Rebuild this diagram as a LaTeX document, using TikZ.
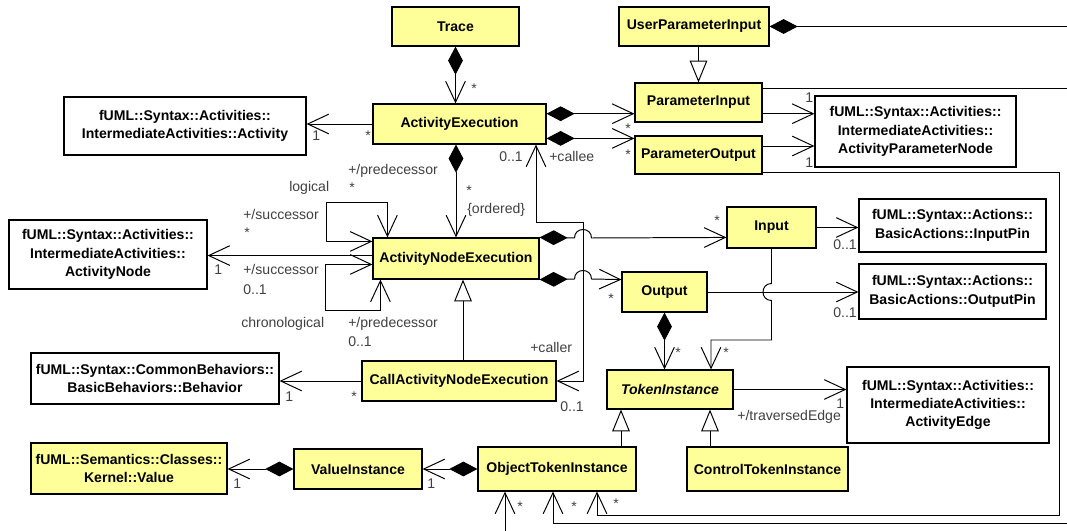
\documentclass[tikz,border=0pt]{standalone}
\usepackage{fontspec}
\setmainfont{Liberation Sans}
\usetikzlibrary{arrows.meta,calc}

\definecolor{umlyellow}{HTML}{FFFF99}
\def\px{0.025cm}

\tikzset{
  every node/.style={font=\fontsize{10}{13}\selectfont},
  sz/.style 2 args={minimum width=#1*\px, minimum height=#2*\px, inner sep=0pt},
  cls/.style={draw, fill=umlyellow, line width=0.8pt, font=\fontsize{10}{13}\selectfont\bfseries},
  ext/.style={draw, fill=white, line width=0.8pt, align=center, font=\fontsize{10}{13}\selectfont\bfseries},
  lbl/.style={anchor=base west, inner sep=0pt, text=black!75},
  conn/.style={line width=0.7pt},
  nav/.style={conn, -{Straight Barb[length=15pt,width=14pt]}},
  navboth/.style={conn, {Straight Barb[length=15pt,width=14pt]}-{Straight Barb[length=15pt,width=14pt]}},
  comp/.style={conn, {Diamond[length=20pt,width=10.5pt]}-{Straight Barb[length=15pt,width=14pt]}},
  owner/.style={conn, {Diamond[length=20pt,width=10.5pt]}-},
  gen/.style={conn, -{Triangle[length=15.5pt,width=12.5pt,fill=white]}},
}

\begin{document}
\begin{tikzpicture}[x=\px, y=-\px]
  \useasboundingbox (0,0) rectangle (1067,531);

  % classes
  \node[cls, sz={127}{39}] (trace) at (455.5,26.5) {Trace};
  \node[cls, sz={150}{39}] (upi)   at (694,26.5)   {UserParameterInput};
  \node[cls, sz={173}{40}] (ae)    at (459.5,124)  {ActivityExecution};
  \node[cls, sz={127}{39}] (pin)   at (698.5,102.5) {ParameterInput};
  \node[cls, sz={127}{38}] (pout)  at (698.5,155)  {ParameterOutput};
  \node[cls, sz={166}{41}] (ane)   at (456,258.5)  {ActivityNodeExecution};
  \node[cls, sz={89}{41}]  (inp)   at (771.5,227.5) {Input};
  \node[cls, sz={85}{40}]  (outp)  at (664.5,292)  {Output};
  \node[cls, sz={194}{40}] (cane)  at (459,381)    {CallActivityNodeExecution};
  \node[cls, sz={126}{39}, font=\fontsize{10}{13}\selectfont\bfseries\itshape] (ti) at (670,389.5) {TokenInstance};
  \node[cls, sz={128}{40}] (vi)    at (358,469)    {ValueInstance};
  \node[cls, sz={158}{44}] (oti)   at (557,469)    {ObjectTokenInstance};
  \node[cls, sz={161}{44}] (cti)   at (767.5,469)  {ControlTokenInstance};
  \node[cls, sz={196}{51}, align=center] (val) at (129,468.5) {fUML::Semantics::Classes::\\Kernel::Value};

  % imported classes
  \node[ext, sz={242}{58}] (act)   at (185,126)    {fUML::Syntax::Activities::\\IntermediateActivities::Activity};
  \node[ext, sz={201}{71}] (apn)   at (915.5,131.5) {fUML::Syntax::Activities::\\IntermediateActivities::\\ActivityParameterNode};
  \node[ext, sz={198}{69}] (anode) at (108,254.5)  {fUML::Syntax::Activities::\\IntermediateActivities::\\ActivityNode};
  \node[ext, sz={187}{53}] (ipin)  at (952.5,225.5) {fUML::Syntax::Actions::\\BasicActions::InputPin};
  \node[ext, sz={187}{55}] (opin)  at (952.5,291.5) {fUML::Syntax::Actions::\\BasicActions::OutputPin};
  \node[ext, sz={248}{51}] (beh)   at (155,378.5)  {fUML::Syntax::CommonBehaviors::\\BasicBehaviors::Behavior};
  \node[ext, sz={202}{76}] (edge)  at (948,405)    {fUML::Syntax::Activities::\\IntermediateActivities::\\ActivityEdge};

  % bends and loose ends
  \coordinate (upiout) at (1067,28);
  \coordinate (pinout) at (1067,88);
  \coordinate (rr)     at (1059,515);
  \coordinate (botout) at (1067,523);
  \coordinate (downout) at (505,531);
  \coordinate (cbend)  at (583,222);
  \coordinate (lg1)    at (326,202);
  \coordinate (ch1)    at (325,310);
  \coordinate (tb)     at (711,340);

  % top part
  \draw[comp] (trace.south) -- (trace.south |- ae.north);
  \draw[gen] (pin.north |- upi.south) -- (pin.north);
  \draw[owner] (upi.east) -- (upi.east -| upiout);
  \draw[conn] (pinout -| pin.east) -- (pinout);
  \draw[nav] (ae.west) -- (ae.west -| act.east);
  \draw[comp] ($(ae.north east)!.25!(ae.south east)$) coordinate (c1) -- (c1 -| pin.west);
  \draw[comp] ($(ae.north east)!.85!(ae.south east)$) coordinate (c2) -- (c2 -| pout.west);
  \draw[nav] (c1 -| pin.east) -- (c1 -| apn.west);
  \draw[nav] ($(pout.north east)!.27!(pout.south east)$) coordinate (c3) -- (c3 -| apn.west);
  \draw[nav] ($(pout.north east)!.95!(pout.south east)$) -| (rr) -| ($(oti.south)+(40,0)$);
  \draw[nav] (botout) -| ($(oti.south)+(-4,0)$);
  \draw[nav] (downout) -- (downout |- oti.south);

  % activity node execution
  \draw[comp] (ane.north |- ae.south) -- (ane.north);
  \draw[navboth] (cane.east) -| (cbend) -| ($(ae.south)+(76.5,0)$);
  \draw[comp] (ane.north east) -- (574.5,238) .. controls (574.5,226.7) and (591.5,226.7) .. (591.5,238) -- (inp.west |- ane.north east);
  \draw[comp] (ane.south east) -- (574.5,279) .. controls (574.5,267.7) and (591.5,267.7) .. (591.5,279) -- (outp.west |- ane.south east);
  \draw[nav] ($(ane.north west)!.43!(ane.south west)$) coordinate (c5) -- (c5 -| anode.east);
  \draw[navboth] ($(ane.north west)+(15,0)$) |- (lg1) |- ($(ane.north west)+(0,4)$);
  \draw[navboth] ($(ane.north west)+(0,27)$) -| (ch1) -| ($(ane.south west)+(8,0)$);
  \draw[gen] ($(cane.north)+(4,0)$) coordinate (g1) -- (g1 |- ane.south);
  \draw[nav] (cane.west) -- (cane.west -| beh.east);

  % pins and tokens
  \draw[nav] (inp.east) -- (inp.east -| ipin.west);
  \draw[nav] (outp.east) -- (outp.east -| opin.west);
  \draw[nav] (inp.south) -- (771.5,283.5) .. controls (760.2,283.5) and (760.2,300.5) .. (771.5,300.5) |- (tb) -- (tb |- ti.north);
  \draw[comp] (outp.south) -- (outp.south |- ti.north);
  \draw[nav] (ti.east) -- (ti.east -| edge.west);
  \draw[gen] ($(oti.north)+(64,0)$) coordinate (g2) -- (g2 |- ti.south);
  \draw[gen] ($(cti.north)+(-57.5,0)$) coordinate (g3) -- (g3 |- ti.south);
  \draw[comp] (oti.west) -- (oti.west -| vi.east);
  \draw[comp] (vi.west) -- (vi.west -| val.east);

  % role names and multiplicities
  \node[lbl] (m1)  at (471,94)  {*};
  \node[lbl] (m2)  at (312,141) {1};
  \node[lbl] (m3)  at (365,141) {*};
  \node[lbl] (m4)  at (625,134) {*};
  \node[lbl] (m5)  at (625,160) {*};
  \node[lbl] (m6)  at (805,103) {1};
  \node[lbl] (m7)  at (805,168) {1};
  \node[lbl] (m8)  at (499,162) {0..1};
  \node[lbl] (r1)  at (549,162) {+callee};
  \node[lbl] (m9)  at (466,196) {*};
  \node[lbl] (r2)  at (467,214) {\{ordered\}};
  \node[lbl] (n1)  at (289,192) {logical};
  \node[lbl] (r3)  at (348,175) {+/predecessor};
  \node[lbl] (m10) at (349,193) {*};
  \node[lbl] (r4)  at (243,220) {+/successor};
  \node[lbl] (m11) at (244,238) {*};
  \node[lbl] (m12) at (214,275) {1};
  \node[lbl] (r5)  at (243,275) {+/successor};
  \node[lbl] (m13) at (243,295) {0..1};
  \node[lbl] (n2)  at (241,328) {chronological};
  \node[lbl] (r6)  at (348,328) {+/predecessor};
  \node[lbl] (m14) at (348,347) {0..1};
  \node[lbl] (m15) at (714,226) {*};
  \node[lbl] (m16) at (833,250) {0..1};
  \node[lbl] (m17) at (608,304) {*};
  \node[lbl] (m18) at (833,318) {0..1};
  \node[lbl] (r7)  at (530,353) {+caller};
  \node[lbl] (m19) at (560,411) {0..1};
  \node[lbl] (m20) at (675,357) {*};
  \node[lbl] (m21) at (723,357) {*};
  \node[lbl] (m22) at (285,401) {1};
  \node[lbl] (m23) at (351,401) {*};
  \node[lbl] (m24) at (836,408) {1};
  \node[lbl] (r8)  at (737,420) {+/traversedEdge};
  \node[lbl] (m25) at (427,488) {1};
  \node[lbl] (m26) at (233,488) {1};
  \node[lbl] (m27) at (517,511) {*};
  \node[lbl] (m28) at (571,511) {*};
  \node[lbl] (m29) at (613,508) {*};
\end{tikzpicture}
\end{document}
